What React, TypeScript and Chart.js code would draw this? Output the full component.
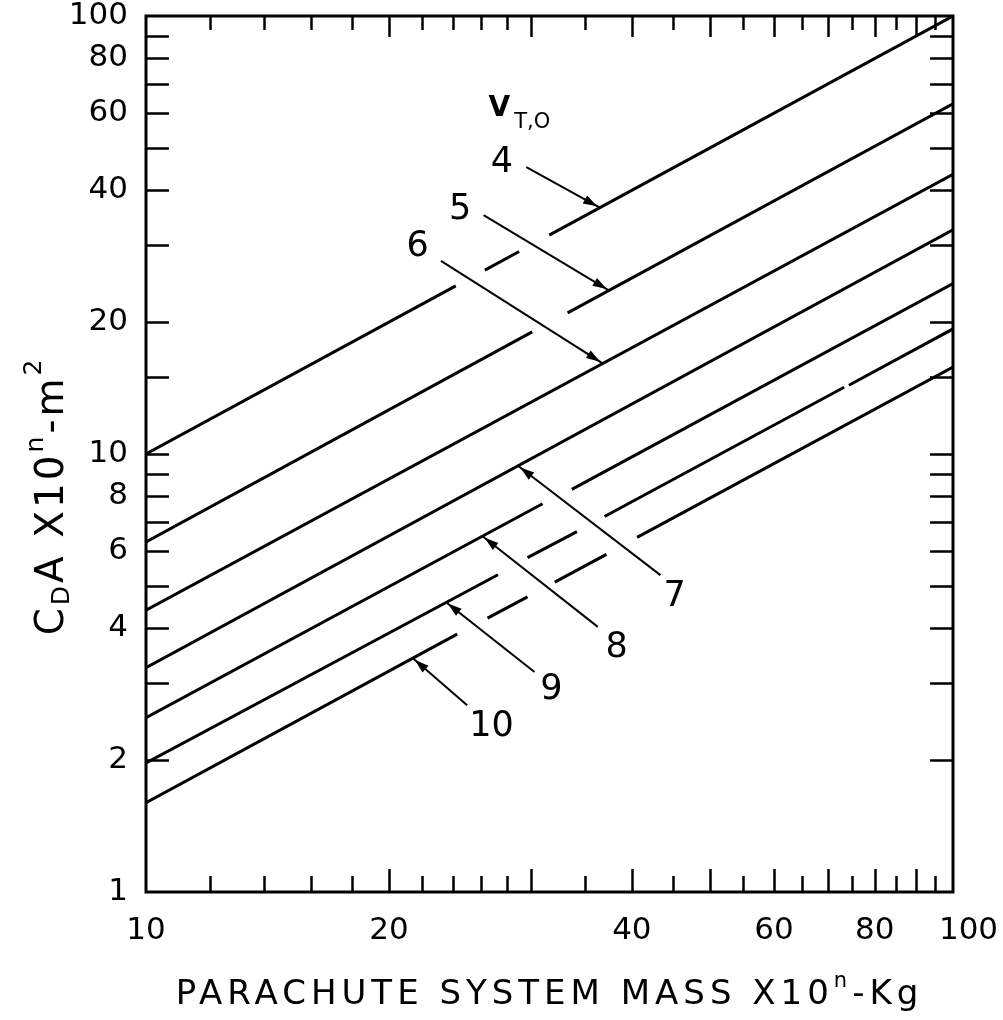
import React, { useEffect, useRef } from "react";
import { Chart, registerables } from "chart.js";

Chart.register(...registerables);

// ---------- axes ----------
const X_MIN = 10;
const X_MAX = 100;
const Y_MIN = 1;
const Y_MAX = 100;
const X_MINOR_MARKS = [12, 14, 16, 18, 22, 24, 26, 28, 35, 45, 55, 65, 75, 85, 95];
const X_MAJOR_MARKS = [20, 30, 40, 50, 60, 70, 80, 90];
const X_LABELS = [10, 20, 40, 60, 80, 100];
const Y_MARKS = [2, 3, 4, 5, 6, 7, 8, 9, 10, 15, 20, 30, 40, 50, 60, 70, 80, 90];
const Y_LABELS = [1, 2, 4, 6, 8, 10, 20, 40, 60, 80, 100];

// ---------- series (mass, CdA); null CdA = break in the drawn line ----------
const SERIES_NAMES = ["4", "5", "6", "7", "8", "9", "10"];
const V4_MASS = [10, 24.2, 25.2, 26.3, 29.0, 30.3, 31.6, 100];
const V4_CDA = [10, 24.2, null, 26.3, 29.0, null, 31.6, 100];
const V5_MASS = [10, 30.1, 31.7, 33.3, 100];
const V5_CDA = [6.3, 19.0, null, 21.0, 63];
const V6_MASS = [10, 100];
const V6_CDA = [4.4, 43.5];
const V7_MASS = [10, 100];
const V7_CDA = [3.25, 32.5];
const V8_MASS = [10, 31.0, 32.3, 33.7, 100];
const V8_CDA = [2.5, 7.7, null, 8.3, 24.5];
const V9_MASS = [10, 27.3, 28.5, 29.7, 34.2, 35.6, 37.0, 73.3, 73.8, 74.3, 100];
const V9_CDA = [1.97, 5.3, null, 5.8, 6.65, null, 7.2, 14.2, null, 14.35, 19.3];
const V10_MASS = [10, 24.3, 25.4, 26.5, 29.7, 30.9, 32.1, 37.2, 38.9, 40.6, 100];
const V10_CDA = [1.6, 3.88, null, 4.22, 4.72, null, 5.1, 5.9, null, 6.45, 15.8];

// ---------- annotation labels and leader arrows (data coordinates) ----------
const NOTE_TEXT = ["4", "5", "6", "7", "8", "9", "10"];
const NOTE_X = [27.6, 24.5, 21.7, 45.2, 38.3, 31.8, 26.8];
const NOTE_Y = [46.2, 36.1, 29.7, 4.72, 3.61, 2.89, 2.38];
const LEADER_FROM_X = [29.6, 26.2, 23.2, 43.4, 36.3, 30.3, 25.0];
const LEADER_FROM_Y = [45.2, 35.1, 27.6, 5.29, 4.03, 3.18, 2.67];
const LEADER_TO_X = [36.5, 37.5, 36.8, 28.9, 26.1, 23.5, 21.4];
const LEADER_TO_Y = [36.5, 23.6, 16.1, 9.4, 6.5, 4.6, 3.42];
const HEADER_V_POS = [27.4, 61.5];
const HEADER_SUB_POS = [28.6, 57.0];

const FONT = "'DejaVu Sans', 'Liberation Sans', sans-serif";

type Part = { t: string; size: number; dy: number };

function measureParts(ctx: CanvasRenderingContext2D, parts: Part[]) {
  let w = 0;
  for (const p of parts) {
    ctx.font = `${p.size}px ${FONT}`;
    w += ctx.measureText(p.t).width;
  }
  return w;
}

function drawParts(ctx: CanvasRenderingContext2D, parts: Part[], cx: number, baseY: number) {
  const total = measureParts(ctx, parts);
  let x = cx - total / 2;
  ctx.textAlign = "left";
  ctx.textBaseline = "alphabetic";
  for (const p of parts) {
    ctx.font = `${p.size}px ${FONT}`;
    ctx.fillText(p.t, x, baseY + p.dy);
    x += ctx.measureText(p.t).width;
  }
}

const decorPlugin = {
  id: "decor",
  afterDatasetsDraw(chart: any) {
    const { ctx, chartArea } = chart;
    const xs = chart.scales.x;
    const ys = chart.scales.y;
    const { left, right, top, bottom } = chartArea;
    ctx.save();
    ctx.strokeStyle = "#000";
    ctx.fillStyle = "#000";
    ctx.lineCap = "butt";

    // frame
    ctx.lineWidth = 3;
    ctx.strokeRect(left, top, right - left, bottom - top);

    // inward tick marks
    ctx.lineWidth = 2.5;
    ctx.beginPath();
    const xMarks = [...X_MINOR_MARKS.map((v) => [v, 16]), ...X_MAJOR_MARKS.map((v) => [v, 23])];
    for (const [v, len] of xMarks) {
      const px = Math.round(xs.getPixelForValue(v)) + 0.5;
      ctx.moveTo(px, bottom);
      ctx.lineTo(px, bottom - len);
      ctx.moveTo(px, top);
      ctx.lineTo(px, top + len - 2);
    }
    for (const v of Y_MARKS) {
      const py = Math.round(ys.getPixelForValue(v)) + 0.5;
      ctx.moveTo(left, py);
      ctx.lineTo(left + 23, py);
      ctx.moveTo(right, py);
      ctx.lineTo(right - 23, py);
    }
    ctx.stroke();

    // leader lines with arrowheads
    ctx.lineWidth = 2;
    for (let i = 0; i < NOTE_TEXT.length; i++) {
      const x0 = xs.getPixelForValue(LEADER_FROM_X[i]);
      const y0 = ys.getPixelForValue(LEADER_FROM_Y[i]);
      const x1 = xs.getPixelForValue(LEADER_TO_X[i]);
      const y1 = ys.getPixelForValue(LEADER_TO_Y[i]);
      ctx.beginPath();
      ctx.moveTo(x0, y0);
      ctx.lineTo(x1, y1);
      ctx.stroke();
      const dx = x1 - x0;
      const dy = y1 - y0;
      const L = Math.hypot(dx, dy);
      const ux = dx / L;
      const uy = dy / L;
      const tipX = x1 - ux * 3;
      const tipY = y1 - uy * 3;
      const bx = x1 - ux * 17;
      const by = y1 - uy * 17;
      ctx.beginPath();
      ctx.moveTo(tipX, tipY);
      ctx.lineTo(bx - uy * 4.5, by + ux * 4.5);
      ctx.lineTo(bx + uy * 4.5, by - ux * 4.5);
      ctx.closePath();
      ctx.fill();

      ctx.font = `35px ${FONT}`;
      ctx.textAlign = "center";
      ctx.textBaseline = "middle";
      ctx.fillText(NOTE_TEXT[i], xs.getPixelForValue(NOTE_X[i]), ys.getPixelForValue(NOTE_Y[i]));
    }

    // V_T,O header
    ctx.font = `bold 28px ${FONT}`;
    ctx.textAlign = "center";
    ctx.textBaseline = "middle";
    ctx.fillText("V", xs.getPixelForValue(HEADER_V_POS[0]), ys.getPixelForValue(HEADER_V_POS[1]));
    ctx.font = `21px ${FONT}`;
    ctx.textAlign = "left";
    ctx.fillText("T,O", xs.getPixelForValue(HEADER_SUB_POS[0]), ys.getPixelForValue(HEADER_SUB_POS[1]));

    // x axis title
    const midX = (left + right) / 2;
    (ctx as any).letterSpacing = "5px";
    drawParts(
      ctx,
      [
        { t: "PARACHUTE SYSTEM MASS X10", size: 34, dy: 0 },
        { t: "n", size: 21, dy: -17 },
        { t: "-Kg", size: 34, dy: 0 },
      ],
      midX,
      1004
    );

    // y axis title (rotated)
    (ctx as any).letterSpacing = "3px";
    ctx.translate(63, (top + bottom) / 2 + 42);
    ctx.rotate(-Math.PI / 2);
    drawParts(
      ctx,
      [
        { t: "C", size: 39, dy: 0 },
        { t: "D", size: 25, dy: 6 },
        { t: "A X10", size: 39, dy: 0 },
        { t: "n", size: 25, dy: -20 },
        { t: "-m", size: 39, dy: 0 },
        { t: "2", size: 25, dy: -22 },
      ],
      0,
      0
    );
    (ctx as any).letterSpacing = "0px";
    ctx.restore();
  },
};

function makeSeries(mass: number[], cda: (number | null)[]) {
  return mass.map((m, i) => ({ x: m, y: cda[i] }));
}

export default function App() {
  const canvasRef = useRef<HTMLCanvasElement | null>(null);

  useEffect(() => {
    document.body.style.margin = "0";
    document.body.style.overflow = "hidden";
    const canvas = canvasRef.current;
    if (!canvas) return;
    const masses = [V4_MASS, V5_MASS, V6_MASS, V7_MASS, V8_MASS, V9_MASS, V10_MASS];
    const cdas = [V4_CDA, V5_CDA, V6_CDA, V7_CDA, V8_CDA, V9_CDA, V10_CDA];
    const datasets = SERIES_NAMES.map((name, i) => ({
      label: name,
      data: makeSeries(masses[i], cdas[i]),
      borderColor: "#000",
      backgroundColor: "#000",
      borderWidth: 3,
      pointRadius: 0,
      tension: 0,
      spanGaps: false,
      fill: false,
    }));

    const chart = new Chart(canvas, {
      type: "line",
      data: { datasets },
      plugins: [decorPlugin],
      options: {
        animation: false,
        responsive: false,
        maintainAspectRatio: false,
        layout: { padding: { left: 0, right: 50, top: 16, bottom: 0 } },
        plugins: { legend: { display: false }, tooltip: { enabled: false }, title: { display: false } },
        scales: {
          x: {
            type: "logarithmic",
            min: X_MIN,
            max: X_MAX,
            grid: { display: false, drawTicks: false },
            border: { display: false },
            afterBuildTicks: (scale: any) => {
              scale.ticks = X_LABELS.map((v) => ({ value: v }));
            },
            afterFit: (scale: any) => {
              scale.height = 128;
              scale.paddingLeft = 0;
              scale.paddingRight = 0;
            },
            ticks: {
              autoSkip: false,
              maxRotation: 0,
              minRotation: 0,
              padding: 20,
              color: "#000",
              font: { family: FONT, size: 31 },
              callback: (v: any) => (v === 100 ? "\u2002\u2002100" : String(v)),
            },
          },
          y: {
            type: "logarithmic",
            min: Y_MIN,
            max: Y_MAX,
            grid: { display: false, drawTicks: false },
            border: { display: false },
            afterBuildTicks: (scale: any) => {
              scale.ticks = Y_LABELS.map((v) => ({ value: v }));
            },
            afterFit: (scale: any) => {
              scale.width = 146;
              scale.paddingTop = 0;
              scale.paddingBottom = 0;
            },
            ticks: {
              autoSkip: false,
              padding: 18,
              color: "#000",
              font: { family: FONT, size: 31 },
              callback: (v: any) => String(v),
            },
          },
        },
      },
    });
    return () => chart.destroy();
  }, []);

  return (
    <div style={{ width: 1003, height: 1020, background: "#fff" }}>
      <canvas ref={canvasRef} width={1003} height={1020} style={{ display: "block" }} />
    </div>
  );
}
